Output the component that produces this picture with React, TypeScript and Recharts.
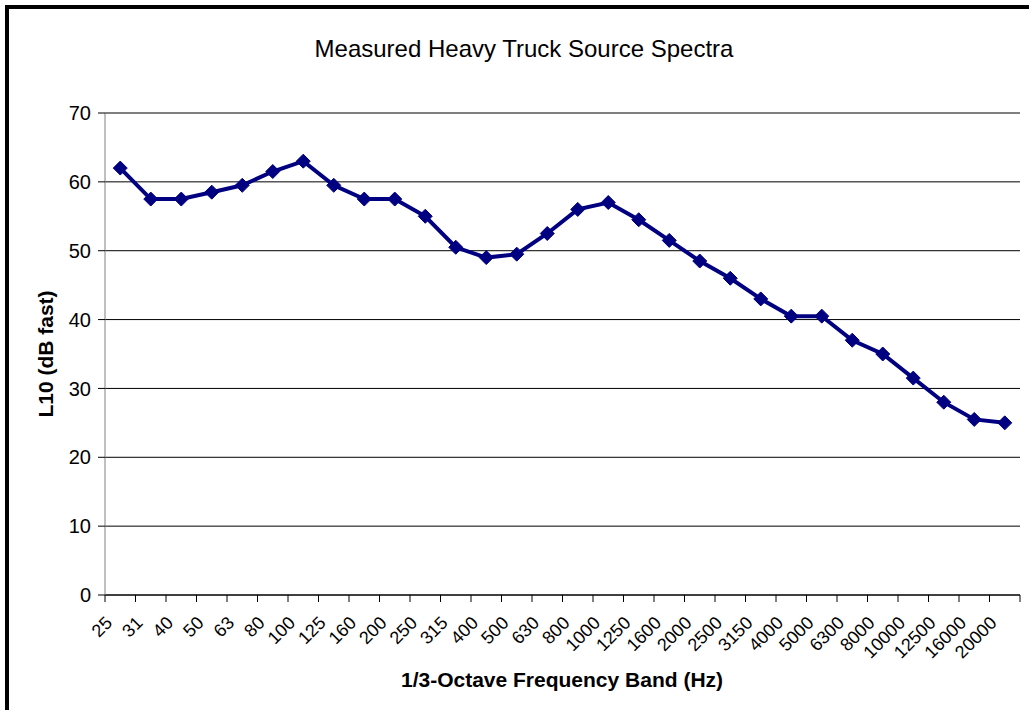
import React from 'react';
import { LineChart, Line, XAxis, YAxis, CartesianGrid, ReferenceLine } from 'recharts';

// 1/3-octave bands (Hz)
const bands = [
  '25', '31', '40', '50', '63', '80', '100', '125', '160', '200',
  '250', '315', '400', '500', '630', '800', '1000', '1250', '1600', '2000',
  '2500', '3150', '4000', '5000', '6300', '8000', '10000', '12500', '16000', '20000',
];

// L10 (dB fast) per band
const l10 = [
  62, 57.5, 57.5, 58.5, 59.5, 61.5, 63, 59.5, 57.5, 57.5,
  55, 50.5, 49, 49.5, 52.5, 56, 57, 54.5, 51.5, 48.5,
  46, 43, 40.5, 40.5, 37, 35, 31.5, 28, 25.5, 25,
];

const yTicks = [0, 10, 20, 30, 40, 50, 60, 70];

const data = bands.map((band, i) => ({ band, l10: l10[i] }));

const FONT = '"Liberation Sans", Arial, Helvetica, sans-serif';
const NAVY = '#000080';

// diamond marker like Excel
const Diamond = (props: any) => {
  const { cx, cy } = props;
  if (cx == null || cy == null) return null;
  const s = 7;
  return (
    <polygon
      points={`${cx},${cy - s} ${cx + s},${cy} ${cx},${cy + s} ${cx - s},${cy}`}
      fill={NAVY}
      stroke={NAVY}
      strokeWidth={1}
    />
  );
};

// category tick: tick marks sit on band edges, label rotated -45
const FreqTick = (props: any) => {
  const { x, y, payload, index, width, visibleTicksCount } = props;
  const band = width && visibleTicksCount ? width / visibleTicksCount : 30.5;
  const left = x - band / 2;
  const isLast = index === visibleTicksCount - 1;
  const ax = x - 7;
  const ay = y + 22;
  return (
    <g>
      <line x1={left} x2={left} y1={y - 7} y2={y} stroke="#000" strokeWidth={1} />
      {isLast && (
        <line x1={x + band / 2} x2={x + band / 2} y1={y - 7} y2={y} stroke="#000" strokeWidth={1} />
      )}
      <text
        x={ax}
        y={ay}
        textAnchor="end"
        transform={`rotate(-45, ${ax}, ${ay})`}
        fontSize={18}
        fontFamily={FONT}
        fill="#000"
      >
        {payload.value}
      </text>
    </g>
  );
};

export default function App() {
  return (
    <div
      style={{
        position: 'absolute',
        left: 0,
        top: 0,
        width: 1029,
        height: 710,
        overflow: 'hidden',
        background: '#fff',
      }}
    >
      <div
        style={{
          position: 'absolute',
          left: 5,
          top: 5,
          width: 1100,
          height: 800,
          border: '4px solid #000',
        }}
      />
      <div style={{ position: 'absolute', left: 0, top: 0 }}>
        <LineChart
          width={1029}
          height={710}
          data={data}
          margin={{ top: 113, right: 9, bottom: 85, left: 0 }}
        >
          <CartesianGrid horizontal vertical={false} stroke="#000" strokeWidth={1} />
          <XAxis
            dataKey="band"
            interval={0}
            height={30}
            padding={{ left: 15.25, right: 15.25 }}
            axisLine={{ stroke: '#000', strokeWidth: 1 }}
            tickLine={false}
            tickSize={7}
            tickMargin={0}
            tick={<FreqTick />}
          />
          <YAxis
            width={105}
            domain={[0, 70]}
            ticks={yTicks}
            interval={0}
            axisLine={{ stroke: '#808080', strokeWidth: 1 }}
            tickLine={{ stroke: '#000' }}
            tickSize={7}
            tickMargin={7}
            tick={{ fill: '#000', fontSize: 20, fontFamily: FONT }}
          />
          <YAxis
            yAxisId="right"
            orientation="right"
            width={0}
            domain={[0, 70]}
            tick={false}
            tickLine={false}
            axisLine={{ stroke: '#808080', strokeWidth: 1 }}
          />
          <ReferenceLine y={70} stroke="#808080" strokeWidth={1} />
          <Line
            type="linear"
            dataKey="l10"
            stroke={NAVY}
            strokeWidth={4}
            dot={<Diamond />}
            activeDot={false}
            isAnimationActive={false}
          />
        </LineChart>
      </div>
      <svg
        width={1029}
        height={710}
        style={{ position: 'absolute', left: 0, top: 0, pointerEvents: 'none' }}
      >
        <text x={524} y={57} textAnchor="middle" fontSize={24} fontFamily={FONT} fill="#000">
          Measured Heavy Truck Source Spectra
        </text>
        <text
          x={562}
          y={687}
          textAnchor="middle"
          fontSize={21}
          fontWeight="bold"
          fontFamily={FONT}
          fill="#000"
        >
          1/3-Octave Frequency Band (Hz)
        </text>
        <text
          x={53}
          y={354}
          textAnchor="middle"
          transform="rotate(-90, 53, 354)"
          fontSize={21}
          fontWeight="bold"
          fontFamily={FONT}
          fill="#000"
        >
          L10 (dB fast)
        </text>
      </svg>
    </div>
  );
}
